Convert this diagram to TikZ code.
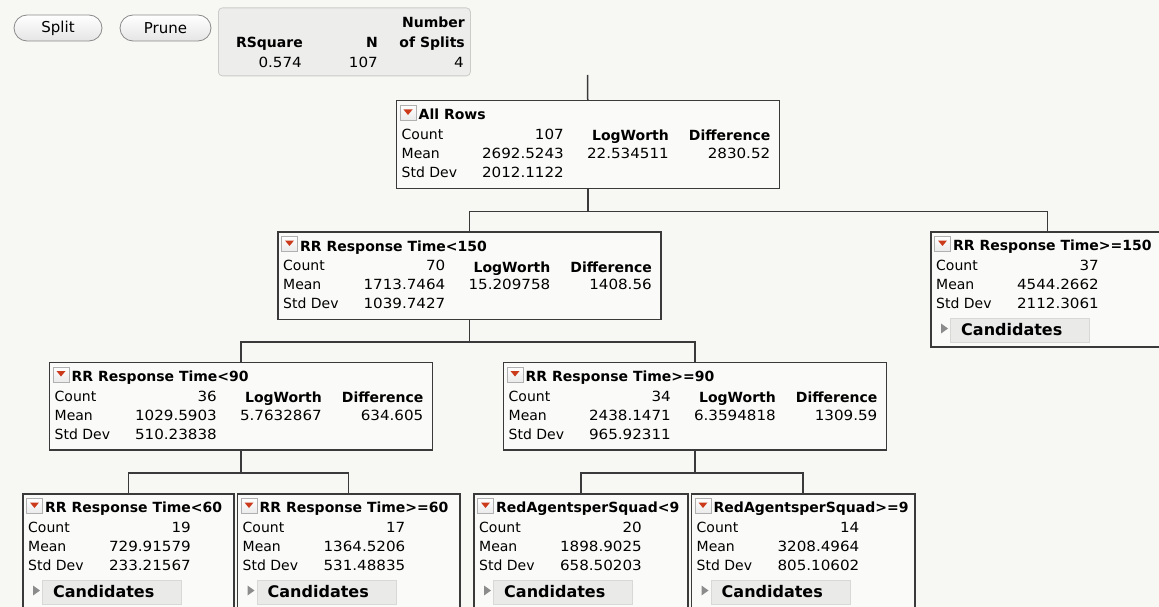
\documentclass[tikz,border=0pt]{standalone}
\usepackage{fontspec}
\setmainfont{DejaVu Sans}
\newfontfamily\numfont{DejaVu Sans}[FakeStretch=1.08]
\definecolor{bgcol}{HTML}{F7F7F4}
\definecolor{boxfill}{HTML}{FAFAF8}
\definecolor{boxline}{HTML}{3A3A3A}
\definecolor{paneldraw}{HTML}{CBCBC9}
\definecolor{panelfill}{HTML}{EDEDEB}
\definecolor{btnline}{HTML}{8A8A8A}
\definecolor{iconline}{HTML}{B0B0B0}
\definecolor{tricol}{HTML}{CC3A1C}
\definecolor{candfill}{HTML}{EAEAE8}
\definecolor{canddraw}{HTML}{D8D8D6}
\definecolor{candtri}{HTML}{8C8C8C}
\tikzset{
  treebox/.style={draw=boxline, line width=1.5pt, fill=boxfill, anchor=north west, inner sep=0pt, minimum height=87.5pt},
  conn/.style={draw=boxline, line width=1.5pt},
  lbl/.style={anchor=base west, inner sep=0pt, font={\fontsize{14}{16}\selectfont}},
  num/.style={anchor=base east, inner sep=0pt, font={\fontsize{14}{16}\selectfont\numfont}},
  hdr/.style={anchor=base east, inner sep=0pt, font={\fontsize{14}{16}\selectfont\bfseries}},
  ttl/.style={anchor=base west, inner sep=0pt, font={\fontsize{14}{16}\selectfont\bfseries}},
  iconbox/.style={draw=iconline, top color=white, bottom color=black!8, line width=0.6pt, minimum width=16pt, minimum height=15pt, anchor=north west, inner sep=0pt},
  tri/.style={fill=tricol},
  candbox/.style={draw=canddraw, fill=candfill, line width=0.6pt, minimum width=139pt, minimum height=24pt, anchor=north west, inner sep=0pt},
  candtxt/.style={anchor=base west, inner sep=0pt, font={\fontsize{16}{18}\selectfont\bfseries}},
  panel/.style={draw=paneldraw, fill=panelfill, rounded corners=4pt, line width=0.8pt, minimum width=252pt, minimum height=68pt, anchor=north west, inner sep=0pt},
  btn/.style={draw=btnline, line width=0.8pt, top color=white, bottom color=black!10, rounded corners=13pt, minimum height=26pt, inner sep=0pt, font={\fontsize{15}{17}\selectfont}},
}
\newcommand\splitbox[9]{%
  \node[treebox, minimum width=383pt] (#1) at (#2,#3) {};
  \begin{scope}[shift={(#2,#3)}]
    \node[iconbox] (#1-icon) at (4,5) {};
    \fill[tri] (8,9.5) -- (17,9.5) -- (12.5,15) -- cycle;
    \node[ttl] (#1-title) at (23,20) {#4};
    \node[lbl] (#1-cl) at (6,39.5) {Count};
    \node[lbl] (#1-ml) at (6,58.5) {Mean};
    \node[lbl] (#1-sl) at (6,77.5) {Std Dev};
    \node[num] (#1-cv) at (168.5,39.5) {#5};
    \node[num] (#1-mv) at (168.5,58.5) {#6};
    \node[num] (#1-sv) at (168.5,77.5) {#7};
    \node[hdr] (#1-lwh) at (273.5,41) {LogWorth};
    \node[hdr] (#1-dfh) at (375,41) {Difference};
    \node[num] (#1-lwv) at (273.5,58.5) {#8};
    \node[num] (#1-dfv) at (375,58.5) {#9};
  \end{scope}}
\newcommand\leafbox[9]{%
  \node[treebox, minimum width=#4pt, minimum height=#5pt] (#1) at (#2,#3) {};
  \begin{scope}[shift={(#2,#3)}]
    \node[iconbox] (#1-icon) at (4,5) {};
    \fill[tri] (8,9.5) -- (17,9.5) -- (12.5,15) -- cycle;
    \node[ttl] (#1-title) at (23,19.5) {#6};
    \node[lbl] (#1-cl) at (6,39.5) {Count};
    \node[lbl] (#1-ml) at (6,58.5) {Mean};
    \node[lbl] (#1-sl) at (6,77.5) {Std Dev};
    \node[num] (#1-cv) at (169,39.5) {#7};
    \node[num] (#1-mv) at (169,58.5) {#8};
    \node[num] (#1-sv) at (169,77.5) {#9};
    \node[candbox] (#1-cand) at (20,87) {};
    \fill[candtri] (11,92.5) -- (18,97.5) -- (11,102.5) -- cycle;
    \node[candtxt] (#1-candt) at (31,104) {Candidates};
  \end{scope}}
\begin{document}
\begin{tikzpicture}[x=1pt,y=-1pt]
  \fill[bgcol] (0,0) rectangle (1159,607);
  \clip (0,0) rectangle (1159,607);
  % buttons
  \node[btn, minimum width=88pt] (split) at (58,28) {Split};
  \node[btn, minimum width=91pt] (prune) at (165.5,28) {Prune};
  % stats panel
  \node[panel] (stats) at (218,7.5) {};
  \node[hdr] (numh) at (465,28) {Number};
  \node[hdr] (rsqh) at (303,48) {RSquare};
  \node[hdr] (nh) at (378,48) {N};
  \node[hdr] (splh) at (465,48) {of Splits};
  \node[num] (rsqv) at (302,68) {0.574};
  \node[num] (nv) at (378,68) {107};
  \node[num] (splv) at (464,68) {4};
  % tree boxes
  \splitbox{allrows}{395.5}{100}{All Rows}{107}{2692.5243}{2012.1122}{22.534511}{2830.52}
  \splitbox{rrlt150}{277}{231}{RR Response Time<150}{70}{1713.7464}{1039.7427}{15.209758}{1408.56}
  \leafbox{rrge150}{930}{231}{233}{115}{RR Response Time>=150}{37}{4544.2662}{2112.3061}
  \splitbox{rrlt90}{48.5}{361.5}{RR Response Time<90}{36}{1029.5903}{510.23838}{5.7632867}{634.605}
  \splitbox{rrge90}{502.5}{361.5}{RR Response Time>=90}{34}{2438.1471}{965.92311}{6.3594818}{1309.59}
  \leafbox{rrlt60}{22}{493}{211}{130}{RR Response Time<60}{19}{729.91579}{233.21567}
  \leafbox{rrge60}{236.5}{493}{222.5}{130}{RR Response Time>=60}{17}{1364.5206}{531.48835}
  \leafbox{ralt9}{473}{493}{214}{130}{RedAgentsperSquad<9}{20}{1898.9025}{658.50203}
  \leafbox{rage9}{690.5}{493}{223.5}{130}{RedAgentsperSquad>=9}{14}{3208.4964}{805.10602}
  % connectors
  \coordinate (stub) at (587.5,75);
  \draw[conn] (stub) -- (allrows.north);
  \draw[conn] (allrows.south) -- ++(0,22.5) coordinate (bus1);
  \draw[conn] (rrlt150.north) |- (bus1) -| (rrge150.north);
  \draw[conn] (rrlt150.south) -- ++(0,22) coordinate (bus2);
  \draw[conn] (rrlt90.north) |- (bus2) -| (rrge90.north);
  \draw[conn] (rrlt90.south) -- ++(0,22.5) coordinate (bus3);
  \draw[conn] (rrlt60.north) |- (bus3) -| (rrge60.north);
  \draw[conn] (rrge90.south) -- ++(0,22.5) coordinate (bus4);
  \draw[conn] (ralt9.north) |- (bus4) -| (rage9.north);
\end{tikzpicture}
\end{document}
